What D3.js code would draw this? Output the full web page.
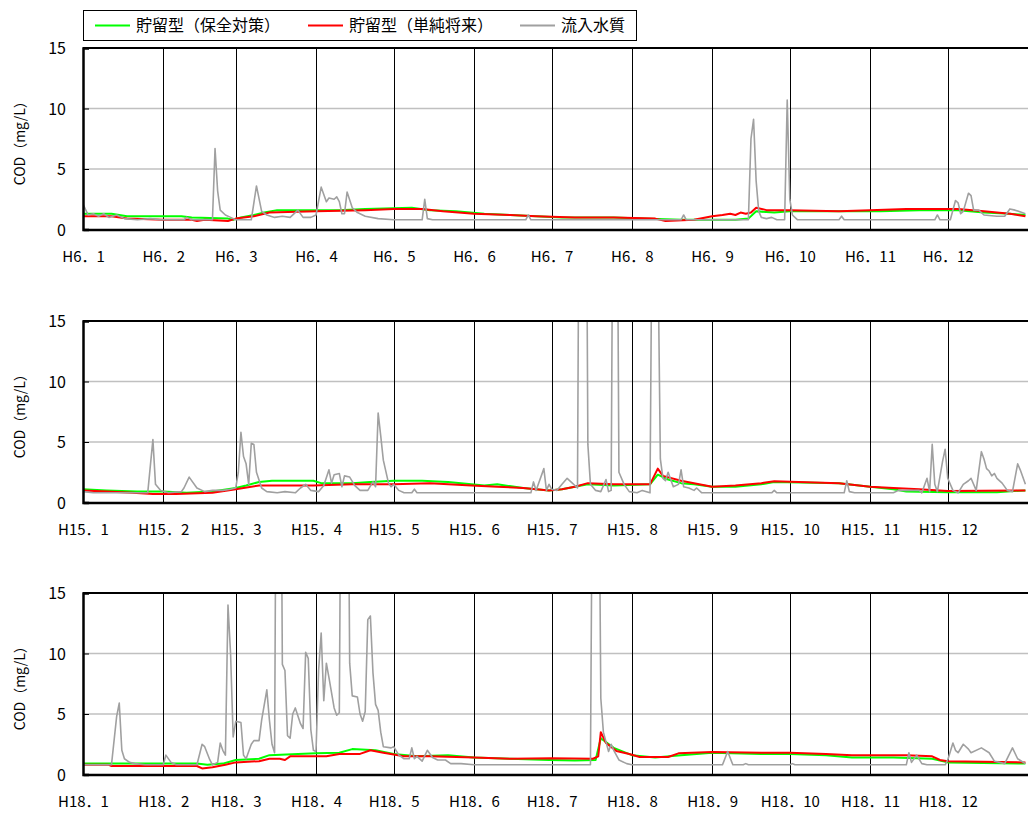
<!DOCTYPE html>
<html>
<head>
<meta charset="utf-8">
<script src="https://cdn.jsdelivr.net/npm/d3@7"></script>
<style>
  body { margin: 0; background: #fff; }
  text { font-family: "Noto Sans CJK JP", "Noto Sans", sans-serif; fill: #000; }
</style>
</head>
<body>
<div id="chart"></div>
<script>

// ---- data (each row: [month, day, COD mg/L]) ----

const seriesNames = ["貯留型（保全対策）", "貯留型（単純将来）", "流入水質"];
const seriesColors = ["#00ff00", "#ff0000", "#a0a0a0"];
const yTicks = [0, 5, 10, 15];
const monthLabels = ["1", "2", "3", "4", "5", "6", "7", "8", "9", "10", "11", "12"];
const eraLabels = ["H6", "H15", "H18"];
const years = [1994, 2003, 2006];

const h6Green = [[1,1,1.3],[1,12,1.3],[1,18,1.1],[2,8,1.1],[2,12,1.0],[2,26,0.9],[2,28,0.8],[3,3,1.0],[3,8,1.2],[3,12,1.4],[3,17,1.6],[4,10,1.6],[4,20,1.7],[5,8,1.8],[5,15,1.6],[5,25,1.5],[6,5,1.3],[6,15,1.2],[6,25,1.1],[7,5,1.0],[7,25,1.0],[8,5,0.9],[8,20,0.8],[9,10,0.8],[9,15,0.9],[9,18,1.5],[9,25,1.4],[10,1,1.5],[10,20,1.5],[11,5,1.5],[11,20,1.6],[12,5,1.6],[12,15,1.4],[12,25,1.3],[12,31,1.2]];
const h6Red = [[1,1,1.1],[1,12,1.1],[1,18,0.9],[2,1,0.8],[2,12,0.8],[2,14,0.7],[2,17,0.8],[2,26,0.7],[3,1,0.9],[3,8,1.1],[3,14,1.4],[4,1,1.5],[4,20,1.6],[5,1,1.7],[5,12,1.7],[5,20,1.5],[6,1,1.3],[6,15,1.2],[6,25,1.1],[7,10,1.0],[7,25,1.0],[8,10,0.9],[8,14,0.7],[8,25,0.8],[9,1,1.1],[9,5,1.2],[9,8,1.3],[9,10,1.2],[9,12,1.4],[9,14,1.3],[9,16,1.4],[9,18,1.8],[9,22,1.6],[10,1,1.6],[10,20,1.5],[11,1,1.6],[11,15,1.7],[12,5,1.7],[12,15,1.5],[12,25,1.3],[12,31,1.1]];
const h6Gray = [[1,1,2.1],[1,3,1.2],[1,5,1.3],[1,7,1.1],[1,9,1.3],[1,11,1.0],[1,14,1.2],[1,17,0.9],[1,22,0.8],[1,27,0.9],[1,31,0.8],[2,9,0.8],[2,10,1.0],[2,12,0.8],[2,20,0.8],[2,21,6.7],[2,22,3.2],[2,23,1.6],[2,25,1.2],[2,27,1.0],[3,1,0.8],[3,7,0.8],[3,9,3.6],[3,11,1.5],[3,13,1.2],[3,16,1.0],[3,19,1.1],[3,22,1.0],[3,25,1.6],[3,27,1.0],[3,30,1.0],[4,1,1.2],[4,3,3.5],[4,5,2.3],[4,6,2.6],[4,8,2.5],[4,9,2.7],[4,10,2.3],[4,11,1.3],[4,12,1.3],[4,13,3.1],[4,15,1.8],[4,17,1.4],[4,20,1.1],[4,25,0.9],[5,1,0.8],[5,12,0.8],[5,13,2.5],[5,14,0.9],[5,16,0.8],[6,21,0.8],[6,22,1.2],[6,23,0.8],[8,20,0.8],[8,21,1.2],[8,22,0.8],[9,15,0.8],[9,16,7.5],[9,17,9.1],[9,18,4.0],[9,19,1.5],[9,20,1.0],[9,22,0.9],[9,24,1.0],[9,26,0.8],[9,29,0.8],[9,30,10.7],[10,1,2.5],[10,2,1.2],[10,4,0.8],[10,20,0.8],[10,21,1.1],[10,22,0.8],[11,26,0.8],[11,27,1.2],[11,28,0.8],[12,2,0.8],[12,4,2.4],[12,5,2.2],[12,6,1.3],[12,7,1.5],[12,9,3.0],[12,10,2.8],[12,11,1.6],[12,13,1.6],[12,15,1.2],[12,20,1.1],[12,23,1.1],[12,25,1.7],[12,27,1.6],[12,31,1.3]];

const h15Green = [[1,1,1.1],[1,10,1.0],[1,22,0.9],[2,1,0.9],[2,10,0.8],[2,20,0.9],[3,1,1.2],[3,5,1.4],[3,10,1.7],[3,15,1.8],[3,31,1.8],[4,3,1.6],[4,15,1.6],[4,22,1.7],[5,1,1.8],[5,12,1.8],[5,22,1.7],[5,31,1.5],[6,5,1.4],[6,10,1.5],[6,20,1.2],[6,30,1.0],[7,5,1.1],[7,10,1.3],[7,15,1.5],[7,25,1.4],[8,8,1.5],[8,11,2.3],[8,15,1.9],[8,20,1.6],[8,25,1.5],[9,1,1.3],[9,10,1.3],[9,20,1.5],[9,25,1.7],[10,20,1.6],[11,1,1.3],[11,10,1.1],[11,15,0.9],[12,1,0.85],[12,20,0.85],[12,31,1.0]];
const h15Red = [[1,1,1.0],[1,10,0.9],[1,20,0.8],[1,28,0.7],[2,6,0.7],[2,20,0.8],[3,1,1.1],[3,10,1.4],[3,31,1.4],[4,15,1.5],[5,1,1.5],[5,15,1.6],[5,31,1.4],[6,10,1.3],[6,20,1.2],[6,30,1.0],[7,5,1.1],[7,10,1.3],[7,15,1.6],[7,25,1.5],[8,1,1.5],[8,8,1.5],[8,11,2.8],[8,13,2.2],[8,20,1.8],[9,1,1.3],[9,10,1.4],[9,20,1.6],[9,25,1.75],[10,20,1.6],[11,1,1.3],[11,10,1.2],[11,20,1.1],[12,1,0.95],[12,31,1.0]];
const h15Gray = [[1,1,0.9],[1,5,0.8],[1,26,0.8],[1,27,3.0],[1,28,5.2],[1,29,1.5],[1,31,1.0],[2,3,0.8],[2,8,0.9],[2,9,1.2],[2,11,2.1],[2,14,1.2],[2,17,0.9],[2,20,1.0],[2,24,1.0],[2,27,1.1],[3,1,1.2],[3,2,2.5],[3,3,5.8],[3,4,3.8],[3,5,3.2],[3,6,1.5],[3,7,4.9],[3,8,4.8],[3,9,2.5],[3,11,1.2],[3,13,0.9],[3,17,0.8],[3,20,0.9],[3,24,0.8],[3,26,1.2],[3,28,1.5],[3,30,1.0],[4,2,0.9],[4,4,1.4],[4,6,2.7],[4,7,1.6],[4,8,2.3],[4,10,2.4],[4,11,1.3],[4,12,2.2],[4,14,2.1],[4,16,1.4],[4,18,1.0],[4,21,1.0],[4,23,1.7],[4,24,1.3],[4,25,7.4],[4,26,5.5],[4,27,3.5],[4,29,1.6],[4,30,1.3],[5,1,1.5],[5,3,1.0],[5,5,0.8],[5,8,0.8],[5,9,1.1],[5,10,0.8],[6,23,0.8],[6,24,1.7],[6,25,1.0],[6,28,2.8],[6,29,1.0],[6,30,1.5],[7,1,1.1],[7,3,1.0],[7,5,1.5],[7,7,2.0],[7,9,1.6],[7,11,1.2],[7,12,45],[7,14,45],[7,15,4.8],[7,16,1.5],[7,18,1.0],[7,20,0.9],[7,22,1.9],[7,23,0.9],[7,24,1.0],[7,25,40],[7,26,40],[7,27,2.5],[7,29,1.5],[7,31,0.9],[8,3,0.8],[8,5,1.0],[8,8,0.8],[8,9,30],[8,11,22],[8,12,3.6],[8,13,2.0],[8,14,1.8],[8,15,2.5],[8,17,1.3],[8,19,1.5],[8,20,2.7],[8,21,1.3],[8,23,1.2],[8,25,1.0],[8,26,1.2],[8,28,0.8],[9,24,0.8],[9,25,1.0],[9,26,0.8],[10,22,0.8],[10,23,1.8],[10,24,0.9],[10,26,0.8],[11,10,0.8],[11,12,1.0],[11,20,1.0],[11,21,0.8],[11,23,2.0],[11,24,0.9],[11,25,4.8],[11,26,1.5],[11,27,0.9],[11,29,3.4],[11,30,4.4],[12,1,2.0],[12,3,1.0],[12,5,0.8],[12,7,1.5],[12,9,1.8],[12,10,2.0],[12,12,1.0],[12,14,4.2],[12,15,3.6],[12,16,2.8],[12,17,2.6],[12,18,2.2],[12,19,2.4],[12,20,2.0],[12,22,1.6],[12,24,1.0],[12,26,0.9],[12,28,3.2],[12,29,2.7],[12,31,1.5]];

const h18Green = [[1,1,0.9],[2,14,0.9],[2,18,0.8],[2,24,0.9],[3,1,1.2],[3,10,1.3],[3,14,1.6],[3,25,1.7],[4,1,1.75],[4,10,1.8],[4,15,2.1],[4,24,2.0],[5,1,1.7],[5,10,1.5],[5,22,1.6],[6,1,1.4],[6,15,1.3],[6,30,1.2],[7,10,1.15],[7,18,1.2],[7,20,3.0],[7,25,2.2],[8,1,1.6],[8,10,1.4],[8,20,1.6],[9,1,1.8],[9,20,1.7],[10,1,1.7],[10,15,1.6],[10,25,1.4],[11,10,1.4],[11,25,1.3],[12,1,1.0],[12,31,0.9]];
const h18Red = [[1,1,0.8],[1,11,0.8],[1,12,0.7],[2,14,0.7],[2,16,0.5],[2,20,0.6],[2,25,0.8],[3,1,1.0],[3,10,1.1],[3,14,1.3],[3,18,1.3],[3,20,1.2],[3,22,1.5],[4,1,1.5],[4,5,1.5],[4,10,1.7],[4,18,1.7],[4,22,2.0],[4,27,1.8],[5,1,1.65],[5,5,1.5],[5,15,1.5],[6,1,1.4],[6,15,1.3],[7,1,1.35],[7,17,1.3],[7,19,1.5],[7,20,3.5],[7,22,2.6],[7,26,1.95],[7,31,1.7],[8,4,1.45],[8,15,1.45],[8,19,1.75],[9,1,1.85],[9,20,1.8],[10,1,1.8],[10,15,1.7],[10,25,1.6],[11,15,1.6],[11,25,1.5],[11,28,1.2],[12,1,1.1],[12,31,1.0]];
const h18Gray = [[1,1,0.8],[1,12,0.8],[1,14,4.8],[1,15,5.9],[1,16,2.0],[1,17,1.3],[1,19,1.0],[1,21,0.9],[1,25,0.8],[2,1,0.8],[2,2,1.6],[2,4,1.0],[2,6,0.8],[2,14,0.8],[2,16,2.5],[2,17,2.3],[2,19,1.2],[2,20,0.8],[2,22,1.0],[2,23,2.6],[2,24,2.0],[2,25,1.6],[2,26,14.0],[2,27,10.0],[2,28,3.1],[3,1,4.4],[3,3,4.3],[3,4,1.6],[3,5,1.3],[3,7,2.5],[3,8,2.8],[3,10,2.8],[3,11,4.5],[3,13,7.0],[3,14,4.5],[3,15,2.5],[3,16,1.8],[3,17,45],[3,18,45],[3,19,9.1],[3,20,8.6],[3,21,3.2],[3,22,3.0],[3,23,5.0],[3,24,5.5],[3,26,4.2],[3,27,3.8],[3,28,10.1],[3,29,9.6],[3,30,3.7],[3,31,2.0],[4,1,1.9],[4,2,8.6],[4,3,11.7],[4,4,6.1],[4,5,9.2],[4,6,8.0],[4,8,5.5],[4,9,4.9],[4,10,5.1],[4,11,40],[4,13,40],[4,14,9.2],[4,15,6.5],[4,17,6.4],[4,18,5.0],[4,19,4.4],[4,20,5.2],[4,21,12.8],[4,22,13.1],[4,23,8.4],[4,24,5.8],[4,25,5.3],[4,26,3.5],[4,27,2.3],[4,30,2.2],[5,1,2.3],[5,3,1.6],[5,5,1.3],[5,7,1.3],[5,8,2.2],[5,9,1.3],[5,10,1.5],[5,12,1.1],[5,14,2.0],[5,16,1.4],[5,18,1.2],[5,21,1.2],[5,23,0.9],[5,27,0.9],[6,1,0.8],[7,16,0.8],[7,17,35],[7,19,35],[7,20,6.3],[7,21,3.5],[7,23,1.9],[7,24,2.5],[7,25,2.0],[7,27,1.2],[7,30,0.9],[8,1,0.8],[9,5,0.8],[9,7,1.9],[9,9,0.8],[9,13,0.8],[9,14,0.9],[9,15,0.8],[10,1,0.8],[10,2,0.9],[10,3,0.8],[11,15,0.8],[11,16,1.8],[11,17,1.0],[11,19,1.6],[11,21,0.9],[11,23,0.8],[11,30,0.8],[12,1,1.2],[12,3,2.6],[12,4,2.0],[12,5,1.8],[12,7,2.5],[12,9,2.1],[12,10,1.8],[12,14,2.2],[12,17,1.8],[12,19,1.1],[12,21,1.0],[12,23,0.9],[12,26,2.2],[12,28,1.3],[12,31,0.9]];

const panelSeries = [
    [h6Green, h6Red, h6Gray],
    [h15Green, h15Red, h15Gray],
    [h18Green, h18Red, h18Gray]
];

/*
 * CodPanel - one year of daily COD, three series
 */
class CodPanel {

    constructor(svg, index, top) {
        this.svg = svg;
        this.index = index;
        this.top = top;
        this.year = years[index];
        this.era = eraLabels[index];
        this.series = panelSeries[index].map(rows =>
            rows.map(r => ({date: new Date(this.year, r[0] - 1, r[1]), value: r[2]})));
    }

    initVis() {
        let vis = this;

        vis.left = 83;
        vis.width = 945;
        vis.height = 181.5;

        vis.g = vis.svg.append("g")
            .attr("transform", "translate(" + vis.left + "," + vis.top + ")");

        vis.x = d3.scaleTime()
            .domain([new Date(vis.year, 0, 1), new Date(vis.year + 1, 0, 1)])
            .range([0, vis.width]);

        vis.y = d3.scaleLinear()
            .domain([0, 15])
            .range([vis.height, 0]);

        let months = d3.timeMonth.range(new Date(vis.year, 0, 1), new Date(vis.year + 1, 0, 1));

        // horizontal grid at 5 and 10
        vis.g.append("g")
            .selectAll("line")
            .data(yTicks.filter(t => t > 0 && t < 15))
            .join("line")
            .attr("x1", 0)
            .attr("x2", vis.width)
            .attr("y1", d => vis.y(d))
            .attr("y2", d => vis.y(d))
            .attr("stroke", "#c0c0c0")
            .attr("stroke-width", 1.5);

        // vertical month lines
        vis.g.append("g")
            .selectAll("line")
            .data(months.slice(1))
            .join("line")
            .attr("x1", d => Math.round(vis.x(d)) + 0.5)
            .attr("x2", d => Math.round(vis.x(d)) + 0.5)
            .attr("y1", 0)
            .attr("y2", vis.height)
            .attr("stroke", "#000")
            .attr("stroke-width", 1);

        // clip so spikes stop at 15
        let clipId = "clip" + vis.index;
        vis.g.append("clipPath")
            .attr("id", clipId)
            .append("rect")
            .attr("x", 0)
            .attr("y", 0)
            .attr("width", vis.width)
            .attr("height", vis.height);

        let line = d3.line()
            .x(d => vis.x(d.date))
            .y(d => vis.y(d.value));

        let widths = [2, 2, 1.6];
        vis.g.append("g")
            .attr("clip-path", "url(#" + clipId + ")")
            .selectAll("path")
            .data(vis.series)
            .join("path")
            .attr("d", line)
            .attr("fill", "none")
            .attr("stroke", (d, i) => seriesColors[i])
            .attr("stroke-width", (d, i) => widths[i])
            .attr("stroke-linejoin", "round");

        // y axis, ticks pointing inward
        vis.yAxis = d3.axisLeft(vis.y)
            .tickValues(yTicks)
            .tickSize(-6)
            .tickPadding(17);

        let ya = vis.g.append("g").attr("class", "y-axis").call(vis.yAxis);
        ya.select(".domain").attr("stroke-width", 2.5);
        ya.selectAll("text")
            .style("font-size", "16px")
            .attr("dy", "0.36em");

        // x axis labels H?．m centred on month starts
        vis.xAxis = d3.axisBottom(vis.x)
            .tickValues(months)
            .tickSize(0)
            .tickPadding(22)
            .tickFormat((d, i) => vis.era + "．" + monthLabels[i]);

        let xa = vis.g.append("g")
            .attr("class", "x-axis")
            .attr("transform", "translate(0," + vis.height + ")")
            .call(vis.xAxis);
        xa.select(".domain").attr("stroke-width", 2.5);
        xa.selectAll("text").style("font-size", "15px");

        // top border
        vis.g.append("line")
            .attr("x1", 0)
            .attr("x2", vis.width + 2)
            .attr("y1", 0)
            .attr("y2", 0)
            .attr("stroke", "#000")
            .attr("stroke-width", 2);

        // y title
        vis.svg.append("text")
            .attr("transform", "translate(25," + (vis.top + vis.height / 2 + 1) + ") rotate(-90)")
            .attr("text-anchor", "middle")
            .style("font-size", "14px")
            .text("COD（mg/L）");
    }
}

const svg = d3.select("#chart").append("svg")
    .attr("width", 1028)
    .attr("height", 814)
    .style("display", "block");

svg.append("rect")
    .attr("width", 1028)
    .attr("height", 814)
    .attr("fill", "#fff");

const panelTops = [48, 321, 593];
panelTops.forEach((top, i) => new CodPanel(svg, i, top).initVis());

// legend
const legend = svg.append("g").attr("transform", "translate(83,10)");
legend.append("rect")
    .attr("x", 0.5)
    .attr("y", 0.5)
    .attr("width", 553)
    .attr("height", 30)
    .attr("fill", "#fff")
    .attr("stroke", "#000");

const legendX = [12, 225, 437];
const items = legend.selectAll("g.item")
    .data(seriesNames)
    .join("g")
    .attr("class", "item")
    .attr("transform", (d, i) => "translate(" + legendX[i] + ",15.5)");

items.append("line")
    .attr("x1", 0)
    .attr("x2", 35)
    .attr("stroke", (d, i) => seriesColors[i])
    .attr("stroke-width", 2);

items.append("text")
    .attr("x", 41)
    .attr("dy", "0.36em")
    .style("font-size", "16px")
    .text(d => d);

</script>
</body>
</html>
